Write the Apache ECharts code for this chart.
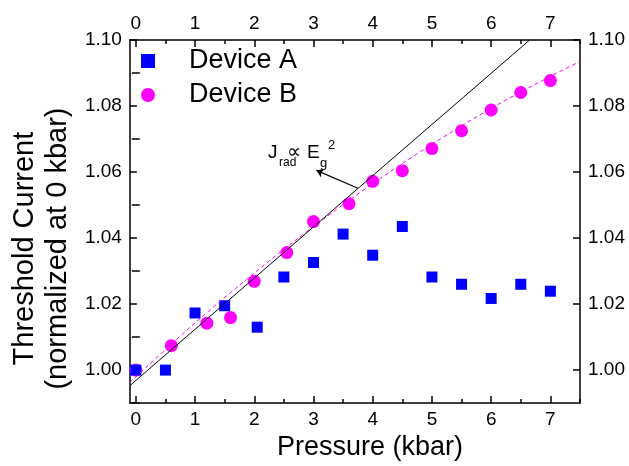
<!DOCTYPE html>
<html>
<head>
<meta charset="utf-8">
<script src="https://cdn.jsdelivr.net/npm/echarts@6/dist/echarts.min.js"></script>
<style>
  html, body { margin: 0; padding: 0; background: #fff; }
  #main { width: 629px; height: 466px; }
</style>
</head>
<body>
<div id="main"></div>
<script>
// Device A (squares)
var pressureA = [0, 0.5, 1.0, 1.5, 2.05, 2.5, 3.0, 3.5, 4.0, 4.5, 5.0, 5.5, 6.0, 6.5, 7.0];
var currentA = [1.000, 1.000, 1.0173, 1.0195, 1.013, 1.0282, 1.0326, 1.0412, 1.0348, 1.0435, 1.0282, 1.026, 1.0217, 1.026, 1.0239];
// Device B (circles)
var pressureB = [0, 0.6, 1.2, 1.6, 2.0, 2.55, 3.0, 3.6, 4.0, 4.5, 5.0, 5.5, 6.0, 6.5, 7.0];
var currentB = [1.000, 1.0074, 1.0142, 1.0159, 1.0269, 1.0356, 1.045, 1.0504, 1.0572, 1.0604, 1.0671, 1.0725, 1.0788, 1.0841, 1.0877];
// dashed fit through device B
var fitX = [-0.1, 1, 2, 3, 4, 5, 6, 7, 7.5];
var fitY = [0.9963, 1.0143, 1.0294, 1.0435, 1.0565, 1.0684, 1.0793, 1.0890, 1.0935];
// J_rad ~ Eg^2 line
var jradX = [-0.1, 6.65];
var jradY = [0.9953, 1.10];
// arrow pointing at the J_rad line label
var arrowFrom = [3.75, 1.0551];
var arrowTo = [3.05, 1.0605];

var xMajor = [0, 1, 2, 3, 4, 5, 6, 7];
var xMinor = [0.5, 1.5, 2.5, 3.5, 4.5, 5.5, 6.5, 7.5];
var yMajor = [1.00, 1.02, 1.04, 1.06, 1.08, 1.10];
var yMinor = [0.99, 1.01, 1.03, 1.05, 1.07, 1.09];

function pairs(xs, ys) {
    return xs.map(function (x, i) { return [x, ys[i]]; });
}

var font = 'Liberation Sans, Arial, sans-serif';
var axisLine = { onZero: false, lineStyle: { color: '#000', width: 1.5 } };

function xAxis(pos, major, withLabel) {
    return {
        type: 'value', position: pos, min: -0.1, max: 7.5,
        axisLine: major ? axisLine : { show: false },
        splitLine: { show: false },
        axisTick: {
            inside: true, length: major ? 7 : 4,
            customValues: major ? xMajor : xMinor,
            lineStyle: { color: '#000', width: 1.5 }
        },
        axisLabel: withLabel ? {
            customValues: xMajor, color: '#000', fontSize: 19, fontFamily: font, margin: 7
        } : { show: false }
    };
}

function yAxis(pos, major, withLabel) {
    return {
        type: 'value', position: pos, min: 0.99, max: 1.10,
        axisLine: major ? axisLine : { show: false },
        splitLine: { show: false },
        axisTick: {
            inside: true, length: major ? 7 : 4,
            customValues: major ? yMajor : yMinor,
            lineStyle: { color: '#000', width: 1.5 }
        },
        axisLabel: withLabel ? {
            customValues: yMajor, color: '#000', fontSize: 19, fontFamily: font, margin: 8,
            formatter: function (v) { return v.toFixed(2); }
        } : { show: false }
    };
}

var xBottom = xAxis('bottom', true, true);
xBottom.name = 'Pressure (kbar)';
xBottom.nameLocation = 'middle';
xBottom.nameGap = 27;
xBottom.nameTextStyle = { color: '#000', fontSize: 27, fontFamily: font, padding: [0, 0, 0, 30] };

var yLeft = yAxis('left', true, true);
yLeft.name = 'Threshold Current\n(normalized at 0 kbar)';
yLeft.nameLocation = 'middle';
yLeft.nameGap = 53;
yLeft.nameTextStyle = { color: '#000', fontSize: 29, fontFamily: font, lineHeight: 33, padding: [0, 54, 0, 0] };

var chart = echarts.init(document.getElementById('main'));
chart.setOption({
    animation: false,
    backgroundColor: '#fff',
    grid: { left: 123, right: 49, top: 40, bottom: 55 },
    legend: {
        orient: 'vertical', left: 141, top: 44, padding: 0,
        itemWidth: 14, itemHeight: 14, itemGap: 0,
        textStyle: { color: '#000', fontSize: 27, fontFamily: font, lineHeight: 34, padding: [0, 0, 0, 29] },
        data: [{ name: 'Device A', icon: 'rect' }, { name: 'Device B', icon: 'circle' }]
    },
    xAxis: [xBottom, xAxis('top', true, true), xAxis('bottom', false, false), xAxis('top', false, false)],
    yAxis: [yLeft, yAxis('right', true, true), yAxis('left', false, false), yAxis('right', false, false)],
    graphic: [
        { type: 'text', left: 268, top: 143, style: { text: 'J', fontSize: 19, fontFamily: font, fill: '#000' } },
        { type: 'text', left: 279, top: 157, style: { text: 'rad', fontSize: 12, fontFamily: font, fill: '#000' } },
        { type: 'text', left: 287, top: 142, style: { text: '\u221D', fontSize: 20, fontFamily: font, fill: '#000' } },
        { type: 'text', left: 307, top: 143, style: { text: 'E', fontSize: 19, fontFamily: font, fill: '#000' } },
        { type: 'text', left: 320, top: 157, style: { text: 'g', fontSize: 13, fontFamily: font, fill: '#000' } },
        { type: 'text', left: 328, top: 139, style: { text: '2', fontSize: 13, fontFamily: font, fill: '#000' } }
    ],
    series: [{
        name: 'Device B', type: 'scatter', z: 2,
        symbol: 'circle', symbolSize: 13,
        itemStyle: { color: '#ff00ff', opacity: 1 },
        data: pairs(pressureB, currentB)
    }, {
        name: 'Device A', type: 'scatter', z: 3,
        symbol: 'rect', symbolSize: 11,
        itemStyle: { color: '#0000ff', opacity: 1 },
        data: pairs(pressureA, currentA)
    }, {
        name: 'fit B', type: 'line', z: 4, smooth: 0.3, symbol: 'none',
        lineStyle: { color: '#ff00ff', width: 1, type: [4, 3] },
        data: pairs(fitX, fitY)
    }, {
        name: 'Jrad', type: 'line', z: 4, symbol: 'none',
        lineStyle: { color: '#000', width: 1 },
        data: pairs(jradX, jradY),
        markLine: {
            silent: true, symbol: ['none', 'arrow'], symbolSize: 7,
            label: { show: false },
            lineStyle: { color: '#000', width: 1.2, type: 'solid' },
            data: [[{ coord: arrowFrom }, { coord: arrowTo }]]
        }
    }]
});
</script>
</body>
</html>
